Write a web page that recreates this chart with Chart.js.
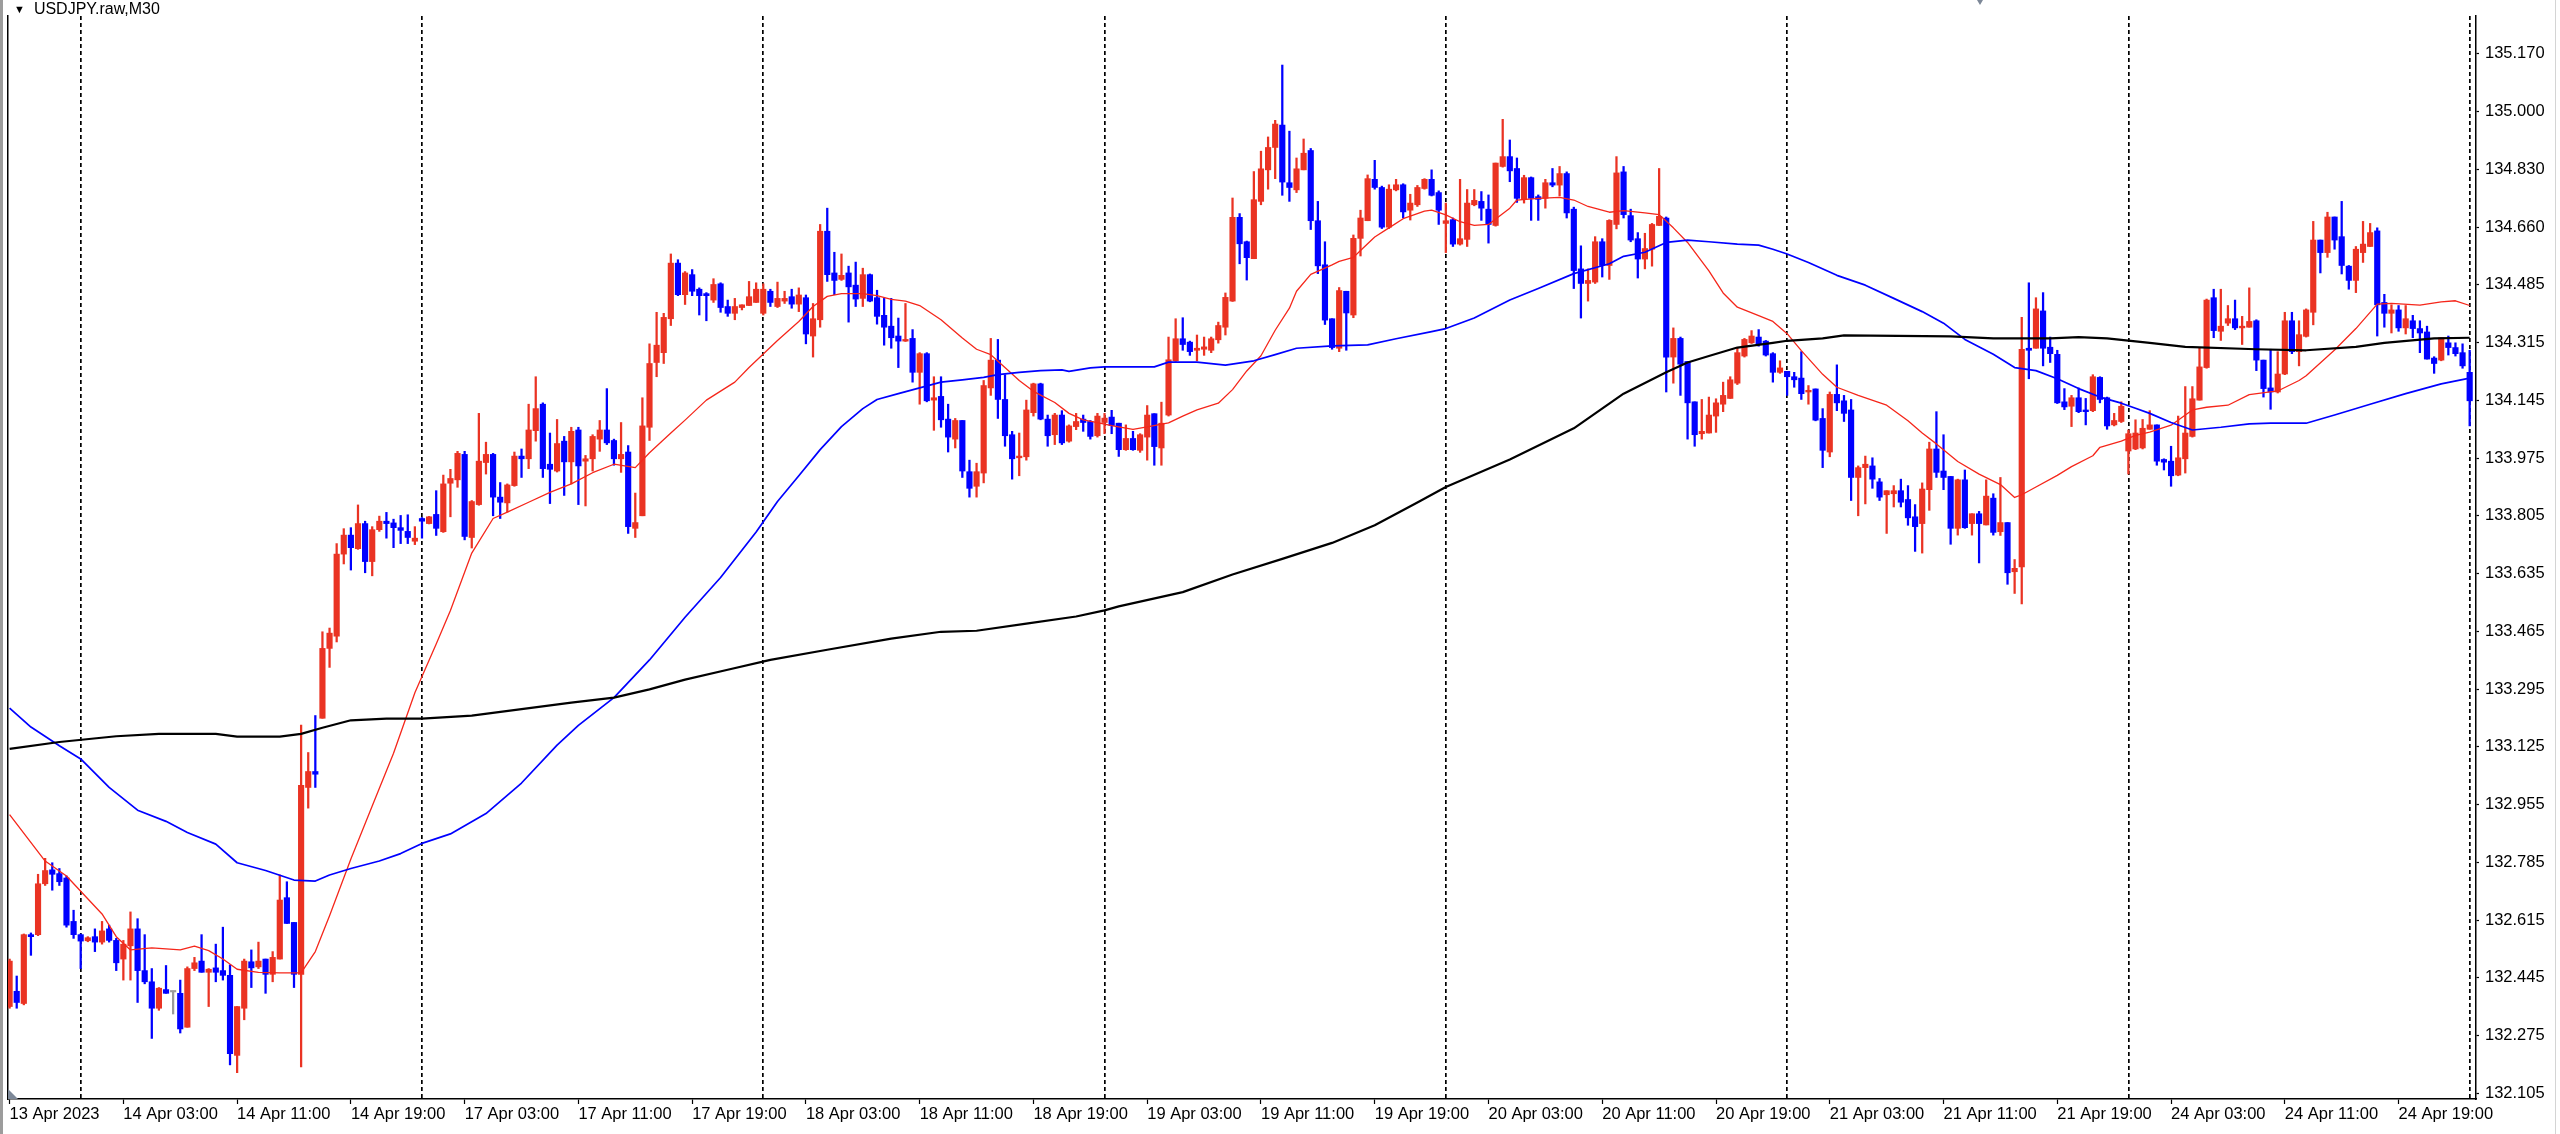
<!DOCTYPE html>
<html>
<head>
<meta charset="utf-8">
<title>USDJPY.raw,M30</title>
<script src="https://cdn.jsdelivr.net/npm/chart.js@4.4.0/dist/chart.umd.min.js"></script>
<style>
  html, body { margin: 0; padding: 0; background: #fff; }
  #wrap { position: relative; width: 2560px; height: 1134px; overflow: hidden; background: #fff; }
  #c { position: absolute; left: 0; top: 0; }
  #symbol { position: absolute; left: 14px; top: 1px; font: 16px 'Liberation Sans', Arial, sans-serif; line-height: 16px; color: #000; white-space: nowrap; }
  #symbol .tri { font-size: 11px; margin-right: 9px; vertical-align: 1px; }
  .edge-left { position: absolute; left: 0; top: 0; width: 3px; height: 1134px; background: #9c9c9c; }
  .edge-right { position: absolute; left: 2555px; top: 0; width: 1px; height: 1134px; background: #d4d4d4; }
  .shift-mark { position: absolute; left: 8px; top: 1089px; width: 0; height: 0; border-bottom: 10px solid #7d8898; border-right: 10px solid transparent; }
  .top-mark { position: absolute; left: 1977px; top: 0; width: 0; height: 0; border-top: 5px solid #7d8898; border-left: 3px solid transparent; border-right: 3px solid transparent; }
</style>
</head>
<body>
<div id="wrap">
  <canvas id="c" width="2560" height="1134" style="width:2560px;height:1134px"></canvas>
  <div class="edge-left"></div>
  <div class="edge-right"></div>
  <div class="shift-mark"></div>
  <div class="top-mark"></div>
  <div id="symbol"><span class="tri">▼</span>USDJPY.raw,M30</div>
</div>
<script>
// ========== DATA: USDJPY M30, 13 Apr 2023 19:00 .. 25 Apr 2023 00:00 (one value per bar) ==========

const opens = [
  132.361,132.406,132.370,132.573,132.573,132.723,132.764,132.753,132.740,132.612,
  132.573,132.555,132.567,132.551,132.590,132.556,132.501,132.540,132.590,132.467,
  132.434,132.356,132.411,132.404,132.400,132.300,132.473,132.495,132.462,132.475,
  132.467,132.453,132.217,132.356,132.493,132.478,132.501,132.456,132.501,132.682,
  132.609,132.456,133.007,133.054,133.211,133.417,133.453,133.695,133.751,133.711,
  133.785,133.673,133.767,133.792,133.787,133.773,133.762,133.733,133.800,133.785,
  133.812,133.761,133.904,133.914,133.989,133.744,133.841,133.965,133.989,133.863,
  133.846,133.897,133.984,133.976,134.059,134.137,133.960,133.940,134.028,133.967,
  134.061,133.969,133.976,134.034,134.061,134.030,133.976,133.996,133.771,133.808,
  134.069,134.260,134.289,134.389,134.553,134.460,134.519,134.476,134.463,134.444,
  134.492,134.425,134.405,134.422,134.428,134.437,134.405,134.470,134.425,134.441,
  134.454,134.432,134.451,134.338,134.386,134.647,134.524,134.505,134.524,134.488,
  134.449,134.519,134.451,134.399,134.367,134.338,134.323,134.331,134.231,134.286,
  134.149,134.160,134.093,134.034,134.089,133.938,133.895,133.934,134.185,134.267,
  134.151,134.047,133.979,133.982,134.112,134.197,134.093,134.047,134.105,134.028,
  134.071,134.093,134.086,134.044,134.083,134.099,134.081,134.003,134.036,134.001,
  134.040,134.109,134.008,134.105,134.265,134.330,134.320,134.296,134.299,134.296,
  134.327,134.364,134.441,134.688,134.616,134.566,134.735,134.828,134.894,134.960,
  134.790,134.769,134.828,134.885,134.678,134.548,134.389,134.302,134.470,134.400,
  134.626,134.678,134.800,134.776,134.659,134.769,134.784,134.709,134.725,134.773,
  134.800,134.761,134.670,134.681,134.609,134.623,134.725,134.735,134.712,134.664,
  134.838,134.867,134.832,134.740,134.805,134.749,134.744,134.790,134.783,134.817,
  134.712,134.536,134.493,134.497,134.616,134.546,134.667,134.822,134.693,134.625,
  134.565,134.594,134.664,134.686,134.276,134.331,134.263,134.144,134.050,134.052,
  134.102,134.137,134.154,134.199,134.279,134.318,134.335,134.323,134.286,134.231,
  134.234,134.218,134.214,134.173,134.182,134.095,133.996,134.166,134.147,134.120,
  133.921,133.950,133.955,133.908,133.870,133.873,133.882,133.856,133.805,133.785,
  133.885,134.005,133.940,133.924,133.771,133.914,133.785,133.814,133.781,133.860,
  133.761,133.788,133.643,133.657,134.302,134.302,134.412,134.305,134.284,134.144,
  134.131,134.156,134.120,134.118,134.216,134.156,134.076,134.086,133.999,134.005,
  134.008,134.063,134.076,133.974,133.969,133.928,133.976,134.042,134.149,134.245,
  134.451,134.352,134.376,134.389,134.362,134.364,134.383,134.267,134.185,134.173,
  134.226,134.383,134.292,134.337,134.408,134.621,134.584,134.689,134.631,134.544,
  134.502,134.584,134.602,134.648,134.437,134.405,134.415,134.362,134.383,134.360,
  134.350,134.273,134.267,134.318,134.304,134.289,134.231
];

const highs = [
  132.501,132.451,132.575,132.578,132.751,132.798,132.785,132.768,132.746,132.645,
  132.575,132.567,132.590,132.612,132.601,132.562,132.556,132.640,132.620,132.573,
  132.473,132.417,132.482,132.406,132.439,132.478,132.506,132.573,132.473,132.545,
  132.595,132.484,132.361,132.501,132.528,132.551,132.501,132.523,132.749,132.729,
  132.609,133.191,133.110,133.219,133.466,133.477,133.726,133.770,133.773,133.840,
  133.792,133.776,133.807,133.818,133.798,133.809,133.811,133.776,133.803,133.806,
  133.882,133.928,133.945,133.998,133.998,133.853,134.110,134.025,133.992,133.906,
  133.902,133.996,134.005,134.137,134.218,134.141,134.052,134.092,134.042,134.069,
  134.069,133.986,134.047,134.089,134.183,134.034,134.083,134.015,133.875,134.156,
  134.315,134.408,134.405,134.580,134.563,134.528,134.534,134.480,134.466,134.507,
  134.495,134.444,134.449,134.430,134.499,134.495,134.492,134.476,134.497,134.470,
  134.476,134.480,134.459,134.434,134.667,134.715,134.585,134.580,134.544,134.556,
  134.538,134.521,134.473,134.449,134.449,134.391,134.434,134.357,134.289,134.289,
  134.218,134.218,134.137,134.095,134.089,133.972,133.963,134.207,134.331,134.328,
  134.224,134.057,134.052,134.149,134.199,134.199,134.105,134.110,134.118,134.076,
  134.110,134.105,134.089,134.110,134.110,134.119,134.081,134.076,134.057,134.050,
  134.133,134.109,134.143,134.335,134.389,134.392,134.323,134.341,134.335,134.335,
  134.379,134.465,134.745,134.699,134.618,134.823,134.883,134.925,134.974,135.137,
  134.942,134.863,134.919,134.891,134.735,134.616,134.389,134.481,134.470,134.636,
  134.709,134.813,134.856,134.780,134.784,134.800,134.787,134.756,134.782,134.802,
  134.828,134.766,134.730,134.686,134.800,134.770,134.770,134.764,134.754,134.848,
  134.977,134.916,134.863,134.812,134.807,134.754,134.800,134.832,134.838,134.822,
  134.718,134.604,134.536,134.631,134.625,134.681,134.867,134.838,134.712,134.643,
  134.641,134.670,134.832,134.689,134.362,134.335,134.263,134.144,134.151,134.158,
  134.153,134.202,134.218,134.302,134.331,134.354,134.357,134.325,134.289,134.265,
  134.234,134.231,134.292,134.192,134.182,134.124,134.173,134.253,134.163,134.151,
  133.955,133.984,133.979,133.918,133.882,133.897,133.916,133.897,133.841,133.905,
  134.025,134.115,134.047,133.924,133.916,133.943,133.814,133.821,133.914,133.873,
  133.921,133.788,133.679,134.393,134.495,134.451,134.466,134.335,134.296,134.183,
  134.163,134.185,134.154,134.224,134.218,134.158,134.110,134.144,134.061,134.091,
  134.092,134.118,134.076,133.976,134.013,134.102,134.189,134.189,134.304,134.447,
  134.476,134.476,134.428,134.444,134.396,134.480,134.386,134.267,134.299,134.292,
  134.408,134.408,134.383,134.418,134.676,134.621,134.703,134.689,134.735,134.546,
  134.602,134.676,134.670,134.657,134.461,134.430,134.428,134.428,134.399,134.383,
  134.367,134.277,134.333,134.338,134.318,134.315,134.296
];

const lows = [
  132.356,132.356,132.366,132.512,132.570,132.718,132.704,132.718,132.595,132.562,
  132.473,132.552,132.523,132.545,132.551,132.467,132.439,132.439,132.373,132.428,
  132.267,132.350,132.400,132.339,132.283,132.300,132.467,132.462,132.361,132.434,
  132.439,132.189,132.166,132.322,132.417,132.473,132.400,132.434,132.501,132.606,
  132.417,132.183,132.946,133.007,133.211,133.361,133.436,133.666,133.648,133.709,
  133.640,133.631,133.762,133.742,133.714,133.726,133.726,133.723,133.742,133.784,
  133.750,133.759,133.805,133.892,133.737,133.713,133.839,133.931,133.808,133.800,
  133.819,133.895,133.921,133.947,134.028,133.921,133.844,133.937,133.868,133.902,
  133.841,133.837,133.940,133.998,134.018,133.957,133.936,133.756,133.744,133.808,
  134.030,134.218,134.257,134.369,134.457,134.431,134.457,134.400,134.383,134.437,
  134.408,134.396,134.386,134.415,134.428,134.437,134.400,134.425,134.422,134.434,
  134.420,134.410,134.315,134.276,134.364,134.499,134.460,134.502,134.379,134.425,
  134.425,134.439,134.373,134.311,134.302,134.245,134.322,134.202,134.137,134.144,
  134.060,134.069,133.996,134.008,133.921,133.863,133.863,133.905,134.163,134.095,
  134.013,133.916,133.926,133.972,134.102,134.091,134.013,134.018,134.018,134.025,
  134.062,134.057,134.034,134.040,134.050,134.050,133.983,134.001,134.001,133.995,
  133.972,133.957,133.957,134.102,134.263,134.296,134.281,134.265,134.281,134.289,
  134.317,134.341,134.440,134.551,134.503,134.566,134.725,134.771,134.802,134.753,
  134.735,134.761,134.828,134.652,134.522,134.372,134.299,134.292,134.296,134.392,
  134.574,134.678,134.771,134.655,134.655,134.766,134.686,134.680,134.720,134.771,
  134.751,134.667,134.584,134.602,134.606,134.602,134.722,134.679,134.612,134.662,
  134.836,134.793,134.732,134.730,134.679,134.679,134.715,134.778,134.751,134.686,
  134.478,134.391,134.441,134.493,134.512,134.505,134.654,134.686,134.616,134.509,
  134.536,134.544,134.664,134.173,134.199,134.163,134.034,134.013,134.034,134.052,
  134.054,134.115,134.154,134.195,134.276,134.316,134.308,134.279,134.202,134.228,
  134.163,134.187,134.151,134.137,134.088,133.950,133.982,134.118,134.086,133.853,
  133.808,133.843,133.889,133.853,133.756,133.834,133.834,133.780,133.703,133.698,
  133.824,133.921,133.885,133.724,133.751,133.771,133.751,133.669,133.781,133.751,
  133.750,133.606,133.579,133.548,134.212,134.302,134.250,134.260,134.139,134.121,
  134.071,134.112,134.076,134.115,134.141,134.063,134.073,134.083,133.931,134.003,
  134.005,134.063,133.957,133.943,133.895,133.926,133.934,134.040,134.149,134.243,
  134.333,134.325,134.369,134.357,134.313,134.364,134.236,134.158,134.122,134.170,
  134.224,134.286,134.250,134.335,134.371,134.524,134.570,134.594,134.521,134.476,
  134.466,134.555,134.602,134.338,134.364,134.347,134.352,134.344,134.333,134.289,
  134.270,134.228,134.265,134.282,134.279,134.243,134.073
];

const closes = [
  132.495,132.373,132.573,132.567,132.723,132.762,132.751,132.729,132.601,132.573,
  132.554,132.564,132.551,132.584,132.556,132.490,132.545,132.590,132.467,132.434,
  132.356,132.415,132.400,132.404,132.295,132.473,132.490,132.462,132.471,132.462,
  132.453,132.222,132.361,132.495,132.475,132.495,132.456,132.506,132.675,132.606,
  132.456,133.013,133.054,133.046,133.417,133.462,133.695,133.751,133.714,133.785,
  133.673,133.767,133.792,133.785,133.773,133.765,133.744,133.742,133.792,133.805,
  133.771,133.902,133.918,133.992,133.747,133.850,133.969,133.989,133.863,133.848,
  133.899,133.984,133.976,134.061,134.124,133.947,133.945,134.021,133.967,134.057,
  133.955,133.976,134.042,134.061,134.023,133.976,133.989,133.776,133.788,134.073,
  134.257,134.311,134.393,134.553,134.460,134.524,134.470,134.457,134.457,134.490,
  134.422,134.405,134.425,134.430,134.454,134.476,134.476,134.437,134.449,134.449,
  134.432,134.459,134.344,134.389,134.647,134.519,134.502,134.517,134.483,134.447,
  134.519,134.441,134.396,134.364,134.333,134.323,134.328,134.231,134.286,134.147,
  134.156,134.091,134.040,134.089,133.940,133.889,133.938,134.192,134.267,134.151,
  134.044,133.976,133.984,134.120,134.197,134.093,134.044,134.105,134.023,134.073,
  134.086,134.083,134.042,134.102,134.096,134.074,134.003,134.036,134.003,134.047,
  134.105,134.012,134.081,134.268,134.330,134.313,134.292,134.302,134.306,134.330,
  134.369,134.452,134.688,134.610,134.569,134.740,134.831,134.894,134.963,134.792,
  134.776,134.831,134.877,134.678,134.545,134.385,134.304,134.472,134.406,134.626,
  134.686,134.802,134.776,134.659,134.771,134.784,134.704,134.730,134.776,134.800,
  134.753,134.709,134.678,134.609,134.625,134.730,134.738,134.715,134.667,134.848,
  134.867,134.825,134.744,134.805,134.744,134.741,134.790,134.783,134.817,134.701,
  134.531,134.493,134.502,134.616,134.546,134.679,134.819,134.696,134.621,134.565,
  134.596,134.667,134.691,134.276,134.331,134.255,134.141,134.047,134.057,134.105,
  134.141,134.163,134.209,134.289,134.328,134.338,134.315,134.282,134.231,134.244,
  134.218,134.209,134.168,134.178,134.090,134.001,134.166,134.141,134.110,133.921,
  133.950,133.960,133.916,133.863,133.882,133.882,133.848,133.802,133.776,133.887,
  134.005,133.936,133.921,133.771,133.914,133.773,133.814,133.785,133.866,133.759,
  133.788,133.640,133.653,134.299,134.296,134.418,134.302,134.286,134.141,134.129,
  134.156,134.115,134.115,134.218,134.151,134.073,134.089,134.131,134.050,134.052,
  134.066,134.076,133.969,133.966,133.926,133.979,134.052,134.153,134.247,134.444,
  134.354,134.367,134.389,134.362,134.367,134.381,134.267,134.183,134.173,134.226,
  134.383,134.292,134.342,134.415,134.621,134.584,134.689,134.621,134.546,134.502,
  134.594,134.609,134.643,134.430,134.405,134.415,134.362,134.389,134.360,134.347,
  134.270,134.257,134.333,134.304,134.286,134.250,134.147
];

// moving averages: [bar index, price]
const maFast = [
  [0,132.927],[5,132.790],[8,132.746],[10,132.701],[13,132.634],[15,132.567],[17,132.528],[20,132.534],
  [24,132.528],[26,132.539],[28,132.526],[30,132.501],[32,132.471],[35,132.462],[38,132.460],[41,132.460],
  [43,132.523],[45,132.629],[48,132.796],[51,132.952],[54,133.108],[57,133.286],[60,133.430],[62,133.529],
  [65,133.698],[68,133.800],[70,133.819],[73,133.848],[76,133.877],[79,133.902],[82,133.935],[85,133.960],
  [88,133.950],[90,133.994],[93,134.052],[95,134.090],[98,134.149],[102,134.202],[104,134.245],[106,134.285],
  [108,134.325],[111,134.381],[113,134.425],[115,134.455],[117,134.463],[120,134.463],[122,134.457],[124,134.446],
  [126,134.441],[128,134.428],[131,134.386],[134,134.332],[136,134.299],[138,134.283],[141,134.226],[142,134.207],
  [144,134.175],[147,134.142],[149,134.110],[151,134.091],[153,134.083],[155,134.074],[158,134.063],[160,134.070],
  [163,134.082],[165,134.102],[167,134.120],[170,134.140],[172,134.180],[174,134.235],[176,134.280],[178,134.355],
  [180,134.420],[181,134.470],[183,134.520],[186,134.548],[187,134.558],[189,134.570],[190,134.590],[192,134.630],
  [194,134.657],[196,134.684],[199,134.706],[200,134.709],[202,134.695],[204,134.675],[206,134.664],[208,134.667],
  [211,134.715],[212,134.739],[215,134.744],[218,134.747],[220,134.739],[222,134.720],[225,134.703],[227,134.708],
  [230,134.701],[232,134.696],[234,134.657],[236,134.614],[239,134.530],[241,134.465],[243,134.423],[246,134.398],
  [248,134.381],[250,134.345],[252,134.295],[255,134.225],[257,134.187],[260,134.163],[264,134.134],[267,134.088],
  [269,134.052],[271,134.020],[274,133.968],[277,133.931],[280,133.900],[282,133.862],[283,133.870],[285,133.893],
  [288,133.927],[290,133.953],[293,133.985],[294,134.010],[297,134.028],[299,134.045],[301,134.055],[304,134.075],
  [307,134.120],[309,134.128],[312,134.134],[315,134.165],[319,134.176],[322,134.207],[323,134.221],[327,134.297],
  [330,134.360],[333,134.432],[335,134.434],[339,134.429],[342,134.439],[344,134.442],[346,134.428]
];

const maMid = [
  [0,133.241],[3,133.185],[7,133.130],[10,133.091],[14,133.007],[18,132.940],[22,132.907],[25,132.874],
  [29,132.840],[32,132.785],[36,132.762],[40,132.734],[43,132.731],[45,132.749],[48,132.768],[52,132.790],
  [55,132.812],[58,132.842],[62,132.870],[67,132.930],[72,133.020],[77,133.132],[80,133.190],[85,133.272],
  [90,133.383],[95,133.509],[100,133.626],[105,133.760],[108,133.850],[111,133.926],[114,134.003],[117,134.071],
  [120,134.124],[122,134.151],[125,134.168],[128,134.185],[131,134.202],[134,134.209],[137,134.216],[139,134.224],
  [142,134.231],[145,134.236],[148,134.238],[149,134.234],[152,134.244],[154,134.247],[161,134.247],[163,134.261],
  [167,134.261],[171,134.252],[175,134.265],[178,134.283],[181,134.302],[186,134.309],[191,134.312],[195,134.330],
  [200,134.351],[202,134.360],[206,134.391],[211,134.444],[215,134.478],[220,134.522],[225,134.551],[227,134.573],
  [230,134.585],[233,134.614],[236,134.621],[239,134.616],[243,134.609],[246,134.606],[248,134.594],[250,134.580],
  [253,134.555],[257,134.517],[261,134.488],[265,134.449],[269,134.410],[272,134.376],[275,134.328],[279,134.284],
  [282,134.245],[285,134.236],[288,134.212],[291,134.183],[294,134.158],[297,134.140],[299,134.125],[301,134.110],
  [304,134.083],[307,134.061],[311,134.069],[315,134.079],[318,134.081],[323,134.081],[327,134.105],[332,134.137],
  [337,134.168],[342,134.197],[346,134.214]
];

const maSlow = [
  [0,133.121],[7,133.141],[15,133.158],[21,133.165],[29,133.165],[32,133.157],[38,133.157],[41,133.165],
  [44,133.183],[48,133.205],[53,133.210],[58,133.210],[65,133.219],[72,133.238],[79,133.257],[85,133.272],
  [90,133.296],[95,133.325],[101,133.354],[107,133.383],[115,133.413],[124,133.446],[131,133.466],[136,133.469],
  [143,133.490],[150,133.511],[154,133.529],[156,133.541],[165,133.583],[172,133.635],[179,133.681],[186,133.728],
  [192,133.780],[198,133.847],[202,133.893],[211,133.974],[220,134.066],[227,134.168],[233,134.231],[236,134.260],
  [239,134.279],[243,134.304],[248,134.318],[250,134.324],[255,134.331],[258,134.340],[273,134.337],[279,134.331],
  [287,134.331],[291,134.335],[295,134.331],[299,134.322],[301,134.318],[306,134.306],[316,134.299],[323,134.296],
  [330,134.306],[334,134.318],[341,134.331],[346,134.333]
];

// time axis: label bars and day separators
const xTickBars = [0,16,32,48,64,80,96,112,128,144,160,176,192,208,224,240,256,272,288,304,320,336];
const xTickLabels = [
  '13 Apr 2023','14 Apr 03:00','14 Apr 11:00','14 Apr 19:00','17 Apr 03:00','17 Apr 11:00',
  '17 Apr 19:00','18 Apr 03:00','18 Apr 11:00','18 Apr 19:00','19 Apr 03:00','19 Apr 11:00',
  '19 Apr 19:00','20 Apr 03:00','20 Apr 11:00','20 Apr 19:00','21 Apr 03:00','21 Apr 11:00',
  '21 Apr 19:00','24 Apr 03:00','24 Apr 11:00','24 Apr 19:00'
];
const separatorBars = [10,58,106,154,202,250,298,346];

const yTickLabels = [
  '135.170','135.000','134.830','134.660','134.485','134.315','134.145','133.975','133.805','133.635',
  '133.465','133.295','133.125','132.955','132.785','132.615','132.445','132.275','132.105'
];

// ========== CHART ==========

const bullColor = '#ea3323';
const bearColor = '#0000ff';
const dojiColor = '#9a9a9a';

const candleColors = opens.map((o, i) => closes[i] > o ? bullColor : (closes[i] < o ? bearColor : dojiColor));
const bodies = opens.map((o, i) => ({ x: i, y: [o, closes[i]] }));
const wicks = opens.map((o, i) => ({ x: i, y: [lows[i], highs[i]] }));
const toPoints = pairs => pairs.map(([x, y]) => ({ x: x, y: y }));

// visible window of the terminal
const xMin = -0.225, xMax = 346.89;
const yMin = 132.0884, yMax = 135.2819;
const yTop = Number(yTickLabels[0]);
const yBottom = Number(yTickLabels[yTickLabels.length - 1]);

const axisFont = { family: "'Liberation Sans', Arial, sans-serif", size: 16.5 };
Chart.defaults.color = '#000';

function lineSet(label, pairs, color, width) {
  return {
    type: 'line', label: label, data: toPoints(pairs),
    borderColor: color, borderWidth: width, pointRadius: 0,
    tension: 0, fill: false, order: 1, borderJoinStyle: 'round'
  };
}

new Chart(document.getElementById('c'), {
  type: 'bar',
  data: {
    datasets: [
      lineSet('MA slow', maSlow, '#000000', 2.2),
      lineSet('MA mid', maMid, '#0000ff', 1.7),
      lineSet('MA fast', maFast, '#f5261a', 1.3),
      {
        label: 'body', data: bodies, backgroundColor: candleColors,
        barThickness: 5.5, grouped: false, minBarLength: 1.5,
        borderWidth: 0, borderSkipped: false, order: 5
      },
      {
        label: 'wick', data: wicks, backgroundColor: candleColors,
        barThickness: 1.6, grouped: false,
        borderWidth: 0, borderSkipped: false, order: 6
      }
    ]
  },
  options: {
    responsive: false,
    animation: false,
    devicePixelRatio: 1,
    events: [],
    layout: { autoPadding: false, padding: { left: 8, right: 0, top: 0, bottom: 0 } },
    plugins: { legend: { display: false }, tooltip: { enabled: false } },
    scales: {
      x: {
        type: 'linear', position: 'bottom', min: xMin, max: xMax, offset: false,
        afterBuildTicks: s => { s.ticks = xTickBars.map(v => ({ value: v })); },
        afterFit: s => { s.height = 35; },
        ticks: {
          callback: (v, i) => xTickLabels[i], align: 'start', autoSkip: false,
          maxRotation: 0, minRotation: 0, padding: 1, font: axisFont, color: '#000'
        },
        grid: { offset: false, drawOnChartArea: false, drawTicks: true, tickLength: 5, tickColor: '#000', tickWidth: 1.2 },
        border: { display: true, color: '#000', width: 1.5 }
      },
      xs: {
        type: 'linear', position: 'top', min: xMin, max: xMax, offset: false,
        afterBuildTicks: s => { s.ticks = separatorBars.map(v => ({ value: v })); },
        afterFit: s => { s.height = 0; },
        ticks: { display: false },
        grid: { offset: false, drawOnChartArea: true, drawTicks: false, color: '#000', lineWidth: 1.7 },
        border: { display: false, dash: [4, 3] }
      },
      y: {
        type: 'linear', position: 'right', min: yMin, max: yMax,
        afterBuildTicks: s => {
          const n = yTickLabels.length - 1;
          s.ticks = yTickLabels.map((t, k) => ({ value: yTop - k * (yTop - yBottom) / n }));
        },
        afterFit: s => { s.width = 84; },
        ticks: { callback: (v, i) => yTickLabels[i], autoSkip: false, padding: 6, font: axisFont, color: '#000' },
        grid: { drawOnChartArea: false, drawTicks: true, tickLength: 3, tickColor: '#000', tickWidth: 1.2 },
        border: { display: true, color: '#000', width: 1.5 }
      },
      yl: {
        type: 'linear', position: 'left', min: yMin, max: yMax,
        afterFit: s => { s.width = 0; },
        ticks: { display: false },
        grid: { drawOnChartArea: false, drawTicks: false },
        border: { display: true, color: '#000', width: 1.5 }
      }
    }
  }
});
</script>
</body>
</html>
